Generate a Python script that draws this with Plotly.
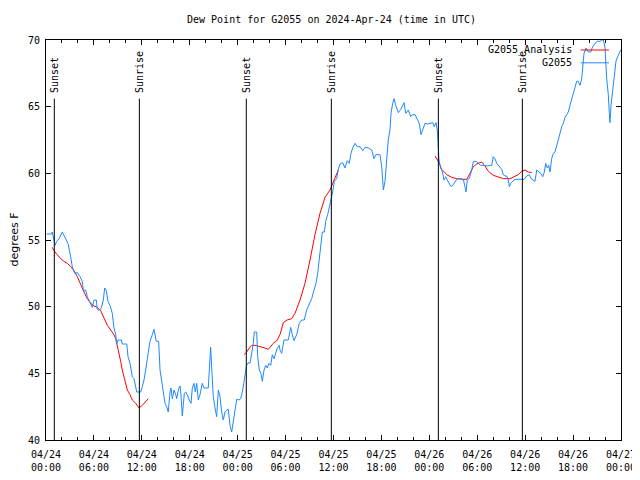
import plotly.graph_objects as go
import pandas as pd

# ---------------- data ----------------
BASE = "2024-04-24 00:00"

# observed dew point (hours after BASE, degrees F)
obs_hours = [0.10, 0.25, 0.66, 0.79, 0.91, 1.13, 1.34, 1.63, 2.04, 2.47, 2.75, 3.09, 3.29, 3.59, 3.92,
             4.26, 4.55, 4.67, 4.97, 5.17, 5.51, 5.80, 6.01, 6.30, 6.42, 6.64, 6.92, 7.18, 7.35, 7.55,
             7.76, 8.01, 8.30, 8.51, 8.73, 8.85, 9.02, 9.43, 9.55, 10.11, 10.27, 10.52, 10.81, 11.02,
             11.36, 11.86, 12.06, 12.27, 12.48, 12.77, 13.02, 13.31, 13.52, 13.81, 14.11, 14.28, 14.49,
             14.69, 14.90, 15.11, 15.31, 15.53, 15.65, 15.82, 16.03, 16.24, 16.37, 16.57, 16.78, 16.90,
             17.07, 17.19, 17.32, 17.49, 17.69, 17.94, 18.16, 18.32, 18.53, 18.70, 18.87, 19.07, 19.28,
             19.57, 19.78, 20.32, 20.45, 20.62, 20.75, 20.95, 21.16, 21.37, 21.58, 21.79, 22.00, 22.20,
             22.41, 22.63, 22.83, 23.04, 23.25, 23.45, 23.67, 23.88, 24.17, 24.38, 24.63, 24.79, 24.96,
             25.13, 25.33, 25.54, 25.76, 25.96, 26.08, 26.38, 26.51, 26.71, 26.92, 27.09, 27.30, 27.51,
             27.71, 27.92, 28.14, 28.34, 28.55, 28.76, 28.96, 29.21, 29.30, 29.51, 29.80, 30.34, 30.64,
             30.84, 31.05, 31.39, 31.72, 32.02, 32.34, 32.64, 32.97, 33.27, 33.56, 33.81, 34.02, 34.22,
             34.40, 34.60, 34.85, 35.06, 35.27, 35.48, 35.69, 35.90, 36.10, 36.40, 36.60, 36.81, 37.15,
             37.44, 37.73, 37.98, 38.19, 38.40, 38.69, 38.98, 39.32, 39.66, 39.95, 40.36, 40.78, 41.07,
             41.32, 41.82, 42.04, 42.24, 42.45, 42.66, 42.86, 43.08, 43.20, 43.41, 43.58, 43.79, 44.12,
             44.42, 44.62, 44.83, 45.04, 45.37, 45.67, 45.87, 46.21, 46.49, 46.74, 46.96, 47.17, 47.46,
             47.75, 48.08, 48.42, 48.62, 48.84, 49.00, 49.12, 49.21, 49.42, 49.62, 49.84, 50.05, 50.25,
             50.50, 50.71, 50.92, 51.21, 51.50, 51.84, 52.25, 52.47, 52.59, 52.75, 53.00, 53.31, 53.51,
             53.84, 54.13, 54.43, 54.85, 55.26, 55.60, 55.81, 56.01, 56.22, 56.44, 56.64, 56.85, 57.06,
             57.26, 57.48, 57.69, 57.89, 58.02, 58.19, 58.44, 58.73, 59.14, 59.57, 59.86, 60.19, 60.52,
             60.73, 61.02, 61.23, 61.45, 61.73, 61.95, 62.20, 62.40, 62.57, 62.77, 62.95, 63.11, 63.32,
             63.52, 63.74, 63.95, 64.15, 64.36, 64.58, 64.78, 64.99, 65.20, 65.40, 65.61, 65.83, 66.03,
             66.24, 66.45, 66.65, 66.87, 67.08, 67.21, 67.37, 67.62, 67.91, 68.21, 68.46, 68.75, 69.03,
             69.37, 69.58, 69.79, 70.00, 70.21, 70.41, 70.54, 70.62, 70.75, 70.96, 71.16, 71.37, 71.59,
             71.79, 71.96]
obs_dewpt = [55.45, 55.45, 55.45, 55.6, 55.25, 54.6, 54.9, 55.1, 55.6, 55.1, 54.75, 53.75, 53.0, 52.5, 52.55,
             52.25, 51.9, 51.2, 51.25, 50.75, 50.25, 49.95, 50.5, 50.5, 49.8, 49.7, 49.9, 50.5, 51.4, 51.2,
             50.4, 50.1, 49.5, 48.4, 47.9, 47.2, 47.5, 47.5, 47.2, 47.2, 46.25, 45.75, 44.75, 44.6,
             43.6, 43.6, 44.0, 44.5, 45.25, 46.5, 47.4, 47.9, 48.3, 47.4, 47.4, 45.25, 44.4,
             43.75, 42.75, 42.5, 42.1, 43.6, 43.9, 43.1, 43.75, 43.4, 43.1, 43.75, 44.05, 43.4,
             41.8, 42.6, 43.5, 43.6, 43.4, 43.0, 42.75, 43.9, 44.25, 43.6, 44.25, 43.0, 43.4,
             44.25, 43.9, 43.9, 45.25, 46.95, 45.4, 43.25, 42.4, 41.75, 43.75, 43.25, 42.1, 41.5,
             42.1, 42.25, 42.3, 41.1, 40.6, 41.5, 42.5, 43.05, 43.0, 43.1, 43.75, 44.5, 45.0,
             45.6, 45.8, 45.75, 46.6, 47.25, 48.1, 48.1, 46.25, 45.25, 45.0, 44.4, 45.25, 45.6,
             45.4, 45.75, 45.6, 46.4, 46.1, 46.5, 46.9, 47.1, 46.75, 46.5, 47.5, 47.5, 48.45,
             47.9, 47.45, 47.9, 48.75, 49.0, 49.0, 49.75, 50.25, 50.6, 51.25, 51.75, 52.5, 53.5,
             54.5, 55.6, 55.6, 56.5, 56.9, 57.4, 57.9, 58.6, 59.4, 59.6, 60.3, 60.7, 60.8,
             60.4, 60.95, 60.75, 61.5, 61.9, 62.25, 62.0, 62.0, 61.7, 61.95, 61.9, 61.75, 61.1,
             61.4, 61.4, 60.5, 58.75, 59.4, 61.3, 62.5, 63.3, 64.5, 65.25, 65.6, 65.1, 64.55,
             64.8, 65.05, 65.3, 64.5, 64.75, 64.25, 64.4, 64.4, 64.0, 63.75, 62.9, 63.25, 63.75,
             63.7, 63.75, 63.8, 63.5, 63.8, 63.25, 61.75, 61.0, 60.4, 60.15, 59.5, 59.75, 59.5,
             59.25, 59.0, 59.1, 59.4, 59.6, 59.6, 59.55, 59.0, 58.6, 59.5, 59.6, 60.25, 60.9,
             60.9, 60.75, 60.6, 60.6, 60.55, 60.6, 60.6, 61.25, 61.1, 60.75, 60.6, 60.5, 60.3,
             59.9, 59.8, 59.8, 59.5, 59.0, 59.25, 59.4, 59.55, 59.55, 59.55, 59.55, 59.8, 59.9,
             59.6, 59.5, 59.4, 60.25, 60.1, 60.0, 59.75, 60.1, 60.75, 60.4, 60.6, 60.1, 61.1,
             61.5, 61.6, 62.1, 62.6, 63.1, 63.5, 63.75, 64.2, 64.4, 64.6, 65.1, 65.6, 66.0,
             66.4, 66.9, 66.9, 66.6, 67.1, 68.1, 69.0, 69.4, 69.1, 69.1, 69.5, 69.75, 69.9,
             69.9, 70.0, 70.0, 69.4, 67.1, 65.9, 64.5, 63.8, 65.1, 66.4, 67.6, 68.4, 68.75,
             69.1, 69.25]

# analysis dew point, three separate runs
ana1_hours = [0.79, 1.00, 1.41, 1.84, 2.25, 2.67, 3.09, 3.51, 3.92, 4.35, 4.76, 5.17, 5.60, 6.01, 6.42,
              6.85, 7.26, 7.68, 8.10, 8.51, 8.73, 8.93, 9.14, 9.35, 9.55, 9.77, 9.98, 10.18, 10.52,
              10.81, 11.23, 11.65, 12.06, 12.48, 12.81]
ana1_vals = [54.45, 54.2, 53.9, 53.6, 53.4, 53.25, 53.0, 52.7, 52.25, 51.6, 51.1, 50.6, 50.25, 50.05, 49.95,
             49.7, 49.1, 48.6, 48.25, 47.9, 47.6, 47.1, 46.5, 45.9, 45.25, 44.75, 44.25, 43.75, 43.4,
             43.0, 42.75, 42.4, 42.6, 42.9, 43.1]
ana2_hours = [24.79, 25.13, 25.46, 25.76, 26.17, 26.58, 27.01, 27.42, 27.84, 28.05, 28.46, 28.89, 29.30,
              29.72, 30.18, 30.77, 31.18, 31.81, 32.43, 33.06, 33.68, 34.31, 34.94, 35.56, 35.98, 36.40,
              36.60]
ana2_vals = [46.4, 46.6, 46.9, 47.1, 47.1, 47.05, 46.95, 46.9, 46.8, 46.95, 47.25, 47.45, 47.9,
             48.8, 49.0, 49.1, 49.5, 50.5, 51.75, 53.5, 55.4, 57.0, 58.2, 58.75, 59.4, 60.0,
             60.25]
ana3_hours = [48.71, 49.12, 49.55, 50.18, 50.80, 51.43, 52.25, 52.68, 53.09, 53.51, 53.93, 54.56, 54.97,
              55.39, 56.01, 56.64, 57.26, 58.10, 58.73, 59.14, 59.57, 59.98, 60.40, 60.82]
ana3_vals = [61.3, 60.9, 60.3, 59.9, 59.7, 59.6, 59.55, 59.55, 60.0, 60.5, 60.7, 60.85, 60.55,
             60.15, 59.85, 59.7, 59.6, 59.6, 59.75, 59.9, 60.15, 60.25, 60.1, 60.05]

# sun events (hours after BASE)
event_hours = [1.04, 11.69, 25.08, 35.73, 49.13, 59.65]
event_labels = ["Sunset", "Sunrise", "Sunset", "Sunrise", "Sunset", "Sunrise"]

# x tick labels every 6 h
tick_hours = [0, 6, 12, 18, 24, 30, 36, 42, 48, 54, 60, 66, 72]
tick_labels = ["04/24<br>00:00", "04/24<br>06:00", "04/24<br>12:00", "04/24<br>18:00",
               "04/25<br>00:00", "04/25<br>06:00", "04/25<br>12:00", "04/25<br>18:00",
               "04/26<br>00:00", "04/26<br>06:00", "04/26<br>12:00", "04/26<br>18:00",
               "04/27<br>00:00"]
y_ticks = [40, 45, 50, 55, 60, 65, 70]

# ---------------- build ----------------
base = pd.Timestamp(BASE)


def to_time(hours):
    return [base + pd.Timedelta(hours=h) for h in hours]


ana_x, ana_y = [], []
for hh, vv in [(ana1_hours, ana1_vals), (ana2_hours, ana2_vals), (ana3_hours, ana3_vals)]:
    ana_x += to_time(hh) + [None]
    ana_y += list(vv) + [None]

BLUE = "#1E88FF"
RED = "#FF0000"
MONO = "DejaVu Sans Mono"

fig = go.Figure()
fig.add_trace(go.Scatter(x=ana_x, y=ana_y, mode="lines", connectgaps=False,
                         line=dict(color=RED, width=1), name="G2055_Analysis"))
fig.add_trace(go.Scatter(x=to_time(obs_hours), y=obs_dewpt, mode="lines",
                         line=dict(color=BLUE, width=1), name="G2055"))

shapes = []
annotations = []
for h, lab in zip(event_hours, event_labels):
    t = base + pd.Timedelta(hours=h)
    shapes.append(dict(type="line", xref="x", yref="y", x0=t, x1=t, y0=40, y1=65.6,
                       line=dict(color="black", width=1)))
    annotations.append(dict(x=t, y=65.9, xref="x", yref="y", text=lab, showarrow=False,
                            textangle=-90, xanchor="center", yanchor="bottom",
                            font=dict(family=MONO, size=10, color="black")))

# legend (gnuplot style: text then sample line)
for name, col, py in [("G2055_Analysis", RED, 0.975), ("G2055", BLUE, 0.943)]:
    annotations.append(dict(x=0.918, y=py, xref="paper", yref="paper", text=name, showarrow=False,
                            xanchor="right", yanchor="middle",
                            font=dict(family=MONO, size=10, color="black")))
    shapes.append(dict(type="line", xref="paper", yref="paper", x0=0.930, x1=0.979, y0=py, y1=py,
                       line=dict(color=col, width=1)))

# title
annotations.append(dict(x=0.497, y=1.05, xref="paper", yref="paper",
                        text="Dew Point for G2055 on 2024-Apr-24 (time in UTC)", showarrow=False,
                        xanchor="center", yanchor="middle",
                        font=dict(family=MONO, size=10, color="black")))
# y axis label
annotations.append(dict(x=-0.0565, y=0.5, xref="paper", yref="paper", text="degrees F",
                        showarrow=False, textangle=-90, xanchor="center", yanchor="middle",
                        borderpad=0,
                        font=dict(family="DejaVu Sans", size=11, color="black")))

# the page body adds an 8 px offset, so the figure is sized to fit the window
fig.update_layout(
    width=632, height=472,
    margin=dict(l=38, r=19, t=32, b=40, autoexpand=False),
    paper_bgcolor="white", plot_bgcolor="white",
    showlegend=False,
    shapes=shapes,
    annotations=annotations,
    xaxis=dict(type="date", range=[base, base + pd.Timedelta(hours=72)], automargin=False,
               tickvals=to_time(tick_hours), ticktext=tick_labels,
               ticks="inside", ticklen=5, tickcolor="black", mirror="ticks",
               showline=True, linecolor="black", linewidth=1, showgrid=False, zeroline=False,
               ticklabelstandoff=5,
               minor=dict(dtick=2 * 3600 * 1000, ticks="inside", ticklen=3, tickcolor="black",
                          showgrid=False),
               tickfont=dict(family=MONO, size=10, color="black")),
    yaxis=dict(range=[40, 70], tickvals=y_ticks, ticks="inside", ticklen=5, tickcolor="black",
               automargin=False, ticklabelstandoff=3,
               mirror="ticks", showline=True, linecolor="black", linewidth=1,
               showgrid=False, zeroline=False,
               tickfont=dict(family=MONO, size=10, color="black")),
)

fig.write_html("out.html")
